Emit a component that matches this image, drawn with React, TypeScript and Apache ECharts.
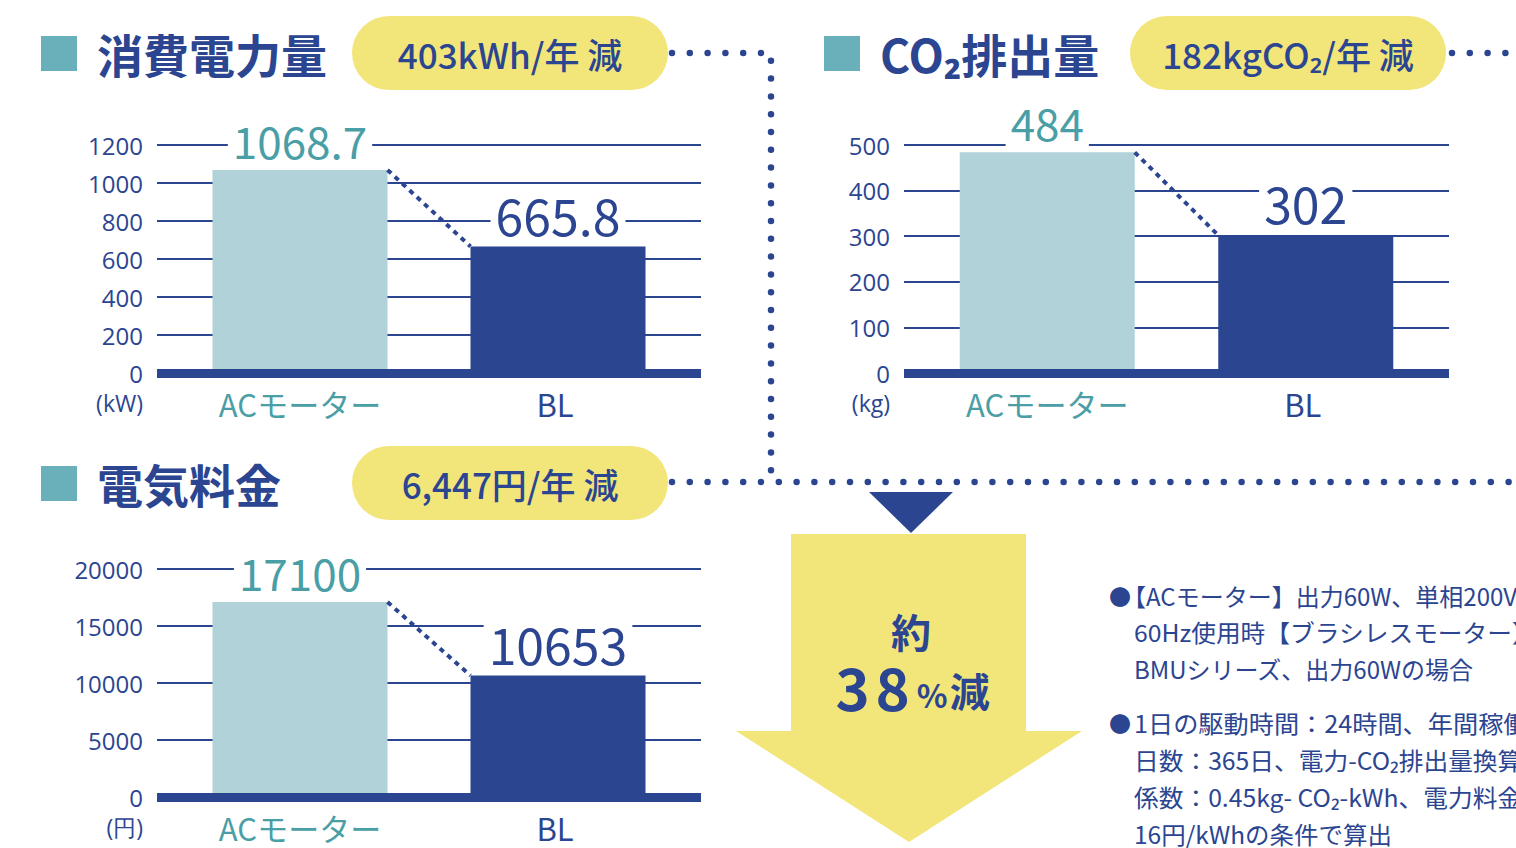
import React, { useEffect, useRef } from "react";
import * as echarts from "echarts";

const FONT = '"Noto Sans CJK JP", "Noto Sans", sans-serif';
const TICK_FONT = '"Open Sans", "Noto Sans", sans-serif';
const NAVY = "#2b4591";
const TEAL = "#4a9ea6";
const LIGHT = "#b0d2d8";
const SQUARE = "#69b0ba";
const YELLOW = "#f2e57a";

const CATS = ["ACモーター", "BL"];
const POWER = [1068.7, 665.8];
const CO2 = [484, 302];
const COST = [17100, 10653];
const AXES = [
  { max: 1200, interval: 200, unit: "(kW)" },
  { max: 500, interval: 100, unit: "(kg)" },
  { max: 20000, interval: 5000, unit: "(円)" },
];
const TITLES = ["消費電力量", "CO₂排出量", "電気料金"];
const BADGES = ["403kWh/年 減", "182kgCO₂/年 減", "6,447円/年 減"];
const NOTES = [
  { bullet: true, text: "【ACモーター】出力60W、単相200V", stretch: 1 },
  { bullet: false, text: "60Hz使用時【ブラシレスモーター】", stretch: 1.03 },
  { bullet: false, text: "BMUシリーズ、出力60Wの場合", stretch: 1 },
  { bullet: true, text: "1日の駆動時間：24時間、年間稼働", stretch: 1.05 },
  { bullet: false, text: "日数：365日、電力-CO₂排出量換算", stretch: 1.03 },
  { bullet: false, text: "係数：0.45kg- CO₂-kWh、電力料金", stretch: 1.03 },
  { bullet: false, text: "16円/kWhの条件で算出", stretch: 1.02 },
];

const GRIDS = [
  { left: 157, top: 145, width: 544, height: 228 },
  { left: 904, top: 145, width: 545, height: 228 },
  { left: 157, top: 569, width: 544, height: 228 },
];
const BAR_W = 175;
const SHIFT = 7;
const BAR_GAP = ((2 * SHIFT - BAR_W) / BAR_W) * 100 + "%";

function buildChart(i: number, values: number[]) {
  const ax = AXES[i];
  const xAxis = {
    gridIndex: i,
    type: "category",
    data: CATS.map((c, k) => ({
      value: c,
      textStyle: k === 0 ? { color: TEAL, padding: [0, 0, 0, 14] } : { color: NAVY, padding: [0, 20, 0, 0] },
    })),
    axisLine: { lineStyle: { color: NAVY, width: 9, cap: "butt" } },
    axisTick: { show: false },
    axisLabel: { fontSize: 31, margin: 15, fontFamily: FONT },
    z: 5,
  };
  const yAxis = {
    gridIndex: i,
    type: "value",
    min: 0,
    max: ax.max,
    interval: ax.interval,
    axisLine: { show: false },
    axisTick: { show: false },
    splitLine: { lineStyle: { color: NAVY, width: 2 } },
    axisLabel: {
      color: NAVY,
      fontSize: 24,
      fontWeight: 400,
      margin: 14,
      fontFamily: TICK_FONT,
      formatter: (v: number) => String(v),
    },
    name: ax.unit,
    nameLocation: "start",
    nameGap: 30,
    nameTextStyle: {
      color: NAVY,
      fontSize: 23,
      fontWeight: 400,
      align: "right",
      verticalAlign: "middle",
      padding: [0, 14, 0, 0],
      fontFamily: TICK_FONT,
    },
  };
  const label = (color: string, size: number) => ({
    show: true,
    position: "top",
    distance: 2,
    color,
    fontSize: size,
    fontFamily: FONT,
    backgroundColor: "#fff",
    padding: [0, 5, 6, 5],
  });
  const series = [
    {
      type: "bar",
      xAxisIndex: i,
      yAxisIndex: i,
      data: ["-", values[1]],
      barWidth: BAR_W,
      barGap: BAR_GAP,
      itemStyle: { color: NAVY },
      label: label(NAVY, 50),
    },
    {
      type: "bar",
      xAxisIndex: i,
      yAxisIndex: i,
      data: [values[0], "-"],
      barWidth: BAR_W,
      barGap: BAR_GAP,
      itemStyle: { color: LIGHT },
      label: label(TEAL, 44),
    },
    {
      type: "custom",
      xAxisIndex: i,
      yAxisIndex: i,
      data: [[0, values[0], 1, values[1]]],
      encode: { x: [0, 2], y: [1, 3] },
      silent: true,
      z: 4,
      renderItem: (_p: any, api: any) => {
        const a = api.coord([api.value(0), api.value(1)]);
        const b = api.coord([api.value(2), api.value(3)]);
        return {
          type: "line",
          shape: { x1: a[0] + SHIFT + BAR_W / 2, y1: a[1], x2: b[0] - SHIFT - BAR_W / 2, y2: b[1] },
          style: { stroke: NAVY, lineWidth: 4, lineDash: [5, 5] },
        };
      },
    },
  ];
  return { xAxis, yAxis, series };
}

function header(x: number, y: number, title: string, bx: number, badge: string) {
  return [
    { type: "rect", shape: { x, y: y - 17, width: 36, height: 35 }, style: { fill: SQUARE } },
    {
      type: "text",
      x: x + 56,
      y,
      style: {
        text: title,
        fill: NAVY,
        font: `bold 46px ${FONT}`,
        textVerticalAlign: "middle",
        textAlign: "left",
      },
    },
    { type: "rect", shape: { x: bx, y: y - 37, width: 316, height: 74, r: 37 }, style: { fill: YELLOW } },
    {
      type: "text",
      x: bx + 158,
      y,
      style: {
        text: badge,
        fill: NAVY,
        font: `500 35px ${FONT}`,
        textVerticalAlign: "middle",
        textAlign: "center",
      },
    },
  ];
}

const dots = (points: number[][]) => ({
  type: "polyline",
  shape: { points },
  style: { stroke: NAVY, fill: null, lineWidth: 6.5, lineDash: [0, 17.8], lineCap: "round" },
});

export default function App() {
  const ref = useRef<HTMLDivElement>(null);
  useEffect(() => {
    const chart = echarts.init(ref.current!, null, { renderer: "svg" });
    const parts = [buildChart(0, POWER), buildChart(1, CO2), buildChart(2, COST)];
    const noteY = [595, 632, 668, 722, 760, 797, 834];
    const noteEls: any[] = [];
    NOTES.forEach((n, k) => {
      if (n.bullet) {
        noteEls.push({
          type: "text",
          x: 1109,
          y: noteY[k],
          style: { text: "●", fill: NAVY, font: `22px ${FONT}`, textVerticalAlign: "middle", textAlign: "left" },
        });
      }
      noteEls.push({
        type: "text",
        x: n.text.startsWith("【") ? 1122 : 1134,
        y: noteY[k],
        scaleX: n.stretch,
        style: { text: n.text, fill: NAVY, font: `24px ${FONT}`, textVerticalAlign: "middle", textAlign: "left" },
      });
    });
    const graphic: any[] = [
      ...header(41, 53, TITLES[0], 352, BADGES[0]),
      ...header(824, 53, TITLES[1], 1130, BADGES[1]),
      ...header(41, 483, TITLES[2], 352, BADGES[2]),
      dots([[672, 53], [771, 53], [771, 482]]),
      dots([[672, 482], [1530, 482]]),
      dots([[1452, 53], [1530, 53]]),
      { type: "polygon", shape: { points: [[869, 492], [953, 492], [911, 533]] }, style: { fill: NAVY } },
      {
        type: "polygon",
        shape: { points: [[791, 534], [1026, 534], [1026, 731], [1082, 731], [909, 842], [736, 731], [791, 731]] },
        style: { fill: YELLOW },
      },
      {
        type: "text",
        x: 911,
        y: 631,
        style: { text: "約", fill: NAVY, font: `bold 40px ${FONT}`, textAlign: "center", textVerticalAlign: "middle" },
      },
      {
        type: "text",
        x: 911,
        y: 686,
        style: {
          text: "{n|3}{n|8}{p|%}{k|減}",
          textAlign: "center",
          textVerticalAlign: "middle",
          rich: {
            n: { fill: NAVY, fontSize: 58, fontWeight: "bold", fontFamily: FONT, padding: [0, 3] },
            p: { fill: NAVY, fontSize: 32, fontWeight: "bold", fontFamily: FONT, padding: [16, 2, 0, 4] },
            k: { fill: NAVY, fontSize: 40, fontWeight: "bold", fontFamily: FONT, padding: [8, 0, 0, 0] },
          },
        },
      },
      ...noteEls,
    ];
    chart.setOption({
      animation: false,
      backgroundColor: "#fff",
      textStyle: { fontFamily: FONT },
      grid: GRIDS,
      xAxis: parts.map((p) => p.xAxis),
      yAxis: parts.map((p) => p.yAxis),
      series: parts.flatMap((p) => p.series),
      graphic,
    } as any);
    return () => chart.dispose();
  }, []);
  return <div ref={ref} style={{ position: "fixed", left: 0, top: 0, width: 1516, height: 848 }} />;
}
